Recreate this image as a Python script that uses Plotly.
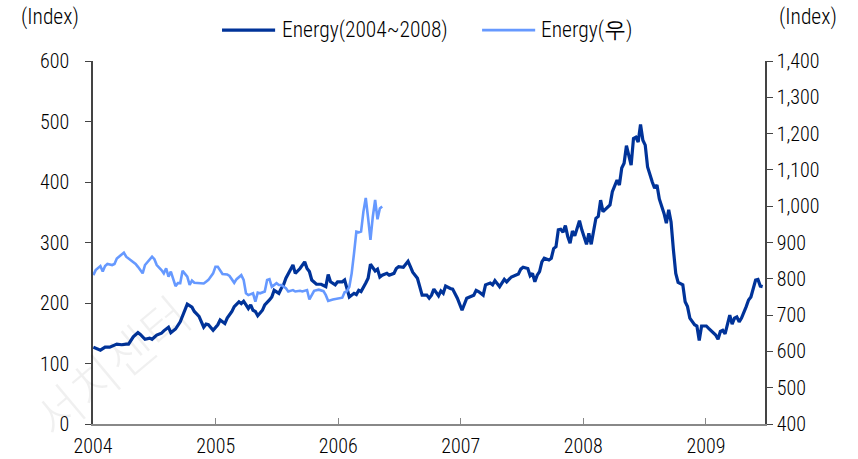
import numpy as np
import pandas as pd
import plotly.graph_objects as go

# ---- data (weekly observations, week index counted from 2004-01-02) ----
start_date = "2004-01-02"

dark_name = "Energy(2004~2008)"
dark_weeks = [0, 1, 3, 5, 7, 10, 12, 14, 15, 17,
              19, 20, 22, 24, 25, 27, 29, 30, 32, 33,
              35, 37, 39, 40, 42, 43, 44, 45, 47, 48,
              49, 51, 53, 54, 56, 57, 59, 60, 62, 63,
              64, 66, 67, 68, 69, 70, 72, 73, 75, 76,
              77, 79, 80, 81, 82, 84, 85, 86, 88, 90,
              91, 92, 93, 95, 96, 97, 99, 100, 101, 103,
              104, 106, 107, 108, 109, 111, 112, 113, 114, 116,
              117, 118, 120, 121, 122, 123, 125, 126, 128, 129,
              130, 132, 134, 135, 136, 138, 139, 140, 142, 143,
              144, 145, 147, 148, 149, 150, 152, 153, 155, 156,
              157, 159, 160, 162, 163, 164, 166, 167, 169, 170,
              171, 173, 175, 176, 178, 179, 181, 182, 183, 185,
              186, 187, 188, 189, 190, 191, 192, 194, 195, 196,
              197, 198, 199, 200, 201, 202, 203, 204, 205, 207,
              208, 210, 211, 212, 214, 215, 216, 217, 219, 220,
              221, 223, 224, 225, 226, 227, 229, 230, 231, 232,
              233, 234, 235, 236, 238, 239, 240, 241, 243, 244,
              245, 246, 247, 248, 249, 251, 252, 253, 254, 256,
              257, 258, 259, 261, 262, 264, 265, 266, 267, 268,
              269, 271, 272, 273, 274, 275, 276, 278, 279, 280,
              282, 283, 284, 285]
dark_values = [127, 125, 122, 127, 127, 132, 131, 132, 132, 144,
               151, 148, 140, 142, 140, 147, 150, 154, 160, 151,
               157, 169, 191, 198, 193, 186, 182, 178, 160, 165,
               164, 155, 164, 172, 166, 175, 186, 194, 202, 199,
               203, 191, 197, 188, 186, 179, 188, 197, 205, 210,
               221, 216, 224, 230, 241, 257, 263, 249, 257, 268,
               257, 252, 238, 231, 231, 231, 227, 247, 235, 230,
               235, 235, 238, 224, 210, 216, 214, 221, 219, 233,
               241, 264, 253, 256, 243, 246, 249, 246, 249, 257,
               260, 259, 269, 260, 251, 241, 227, 213, 213, 208,
               213, 223, 212, 220, 216, 228, 224, 223, 208, 197,
               188, 208, 210, 213, 221, 219, 213, 230, 233, 230,
               237, 227, 239, 235, 243, 245, 248, 256, 259, 257,
               245, 249, 235, 246, 252, 268, 274, 271, 274, 290,
               293, 321, 322, 317, 328, 310, 299, 319, 311, 336,
               321, 297, 315, 297, 340, 343, 370, 351, 359, 362,
               384, 403, 395, 423, 431, 460, 428, 472, 474, 466,
               495, 469, 461, 425, 400, 390, 395, 372, 348, 332,
               354, 334, 288, 249, 234, 230, 202, 194, 175, 164,
               162, 138, 162, 162, 158, 151, 147, 140, 153, 155,
               149, 180, 165, 175, 177, 169, 175, 194, 205, 210,
               238, 239, 228, 227]

light_name = "Energy(우)"
light_weeks = [0, 1, 3, 4, 5, 6, 8, 9, 10, 11,
               13, 14, 15, 17, 18, 19, 21, 22, 24, 25,
               26, 27, 29, 30, 31, 32, 33, 34, 35, 36,
               37, 38, 40, 41, 42, 43, 45, 47, 48, 49,
               51, 52, 53, 55, 57, 58, 60, 61, 63, 64,
               65, 66, 68, 69, 70, 71, 73, 74, 75, 76,
               78, 79, 80, 82, 83, 85, 86, 88, 89, 91,
               92, 94, 96, 98, 99, 100, 102, 104, 106, 107,
               108, 109, 110, 111, 112, 113, 114, 115, 116, 117,
               118, 119, 120, 121, 122, 123]
light_values = [810, 824, 835, 820, 835, 841, 838, 841, 856, 861,
                872, 861, 856, 844, 841, 833, 815, 838, 854, 861,
                854, 838, 824, 815, 829, 806, 820, 801, 780, 788,
                788, 822, 806, 783, 795, 789, 789, 787, 792, 797,
                815, 833, 833, 813, 812, 808, 789, 799, 810, 797,
                760, 755, 760, 737, 762, 760, 765, 797, 799, 778,
                788, 783, 783, 774, 765, 769, 765, 767, 765, 769,
                743, 767, 770, 766, 755, 739, 743, 746, 748, 763,
                766, 778, 815, 870, 930, 928, 930, 985, 1023, 967,
                907, 971, 1017, 964, 994, 999]

year_ticks = ["2004-01-01", "2005-01-01", "2006-01-01", "2007-01-01", "2008-01-01", "2009-01-01"]
year_labels = ["2004", "2005", "2006", "2007", "2008", "2009"]
left_ticks = [0, 100, 200, 300, 400, 500, 600]
right_ticks = [400, 500, 600, 700, 800, 900, 1000, 1100, 1200, 1300, 1400]
axis_unit = "(Index)"
watermark = "서치센터"

assert len(dark_weeks) == len(dark_values)
assert len(light_weeks) == len(light_values)

def to_dates(weeks):
    return pd.Timestamp(start_date) + pd.to_timedelta(np.array(weeks) * 7, unit="D")

FONT = "Liberation Sans Narrow, Arial Narrow, Roboto Condensed, Liberation Sans, Arial, sans-serif"
FSIZE = 20
LSIZE = 21.5
DARK = "#003399"
LIGHT = "#6699ff"

fig = go.Figure()
fig.add_trace(go.Scatter(x=to_dates(dark_weeks), y=dark_values, name=dark_name,
                         mode="lines", line=dict(color=DARK, width=3.2), yaxis="y",
                         showlegend=False))
fig.add_trace(go.Scatter(x=to_dates(light_weeks), y=light_values, name=light_name,
                         mode="lines", line=dict(color=LIGHT, width=2.6), yaxis="y2",
                         showlegend=False))

# legend drawn as line samples + labels above the plot
legend_items = [
    dict(name=dark_name, color=DARK, width=3.2, x0=0.192, x1=0.271, tx=0.278),
    dict(name=light_name, color=LIGHT, width=2.6, x0=0.579, x1=0.658, tx=0.663),
]
legend_y = 1.085
shapes = []
annotations = []
for it in legend_items:
    shapes.append(dict(type="line", xref="paper", yref="paper", x0=it["x0"], x1=it["x1"],
                       y0=legend_y, y1=legend_y, line=dict(color=it["color"], width=it["width"])))
    annotations.append(dict(text=it["name"], xref="paper", yref="paper", x=it["tx"], y=legend_y,
                            xanchor="left", yanchor="middle", showarrow=False,
                            font=dict(family=FONT, size=LSIZE, weight=300)))

annotations += [
    dict(text=axis_unit, xref="paper", yref="paper", x=-0.064, y=1.121,
         xanchor="center", yanchor="middle", showarrow=False,
         font=dict(family=FONT, size=LSIZE, weight=300)),
    dict(text=axis_unit, xref="paper", yref="paper", x=1.064, y=1.121,
         xanchor="center", yanchor="middle", showarrow=False,
         font=dict(family=FONT, size=LSIZE, weight=300)),
    dict(text=watermark, xref="paper", yref="paper", x=0.026, y=0.165,
         xanchor="center", yanchor="middle", showarrow=False, textangle=-40,
         font=dict(family="Noto Sans CJK KR", size=50, color="rgba(0,0,0,0.06)")),
]

fig.update_layout(
    width=858, height=459,
    margin=dict(l=93, r=93, t=61, b=35, autoexpand=False),
    paper_bgcolor="white", plot_bgcolor="white",
    font=dict(family=FONT, size=FSIZE, color="#000000", weight=300),
    showlegend=False,
    xaxis=dict(type="date", range=["2004-01-01", "2009-06-26"],
               tickvals=year_ticks, ticktext=year_labels, automargin=False,
               showgrid=False, zeroline=False,
               showline=True, linecolor="#888888", linewidth=2,
               ticks="inside", ticklen=6, tickcolor="#888888", tickwidth=1,
               ticklabelstandoff=3),
    yaxis=dict(range=[0, 600], tickvals=left_ticks, showgrid=False, zeroline=False,
               automargin=False, ticklabelstandoff=12,
               showline=True, linecolor="#444444", linewidth=1.5,
               ticks="outside", ticklen=6, tickcolor="#444444"),
    yaxis2=dict(range=[400, 1400], tickvals=right_ticks, tickformat=",",
                overlaying="y", side="right", showgrid=False, zeroline=False,
                automargin=False,
                showline=True, linecolor="#444444", linewidth=1.5,
                ticks="outside", ticklen=6, tickcolor="#444444"),
    shapes=shapes,
    annotations=annotations,
)

fig.write_html("out.html", config={"displayModeBar": False},
               post_script="document.body.style.margin='0';document.body.style.overflow='hidden';")
